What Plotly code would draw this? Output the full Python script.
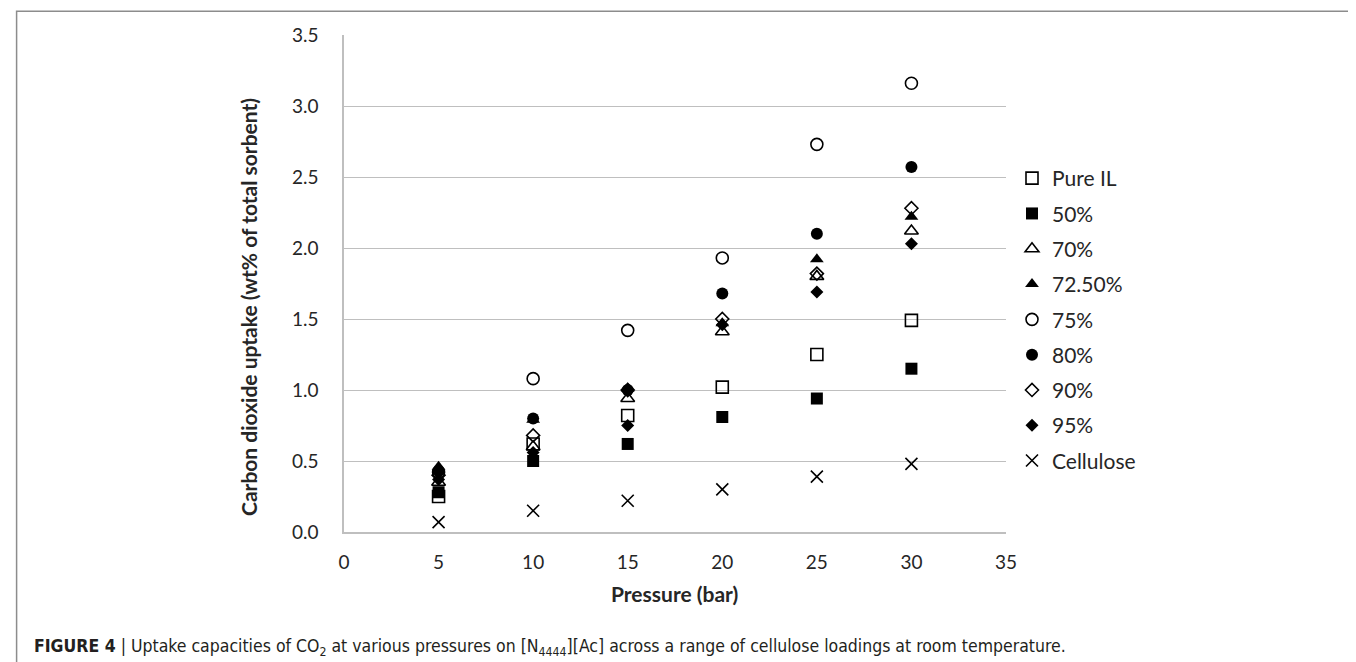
import plotly.graph_objects as go

# ---------------- data ----------------
pressure = [5, 10, 15, 20, 25, 30]
series_names = ["Pure IL", "50%", "70%", "72.50%", "75%", "80%", "90%", "95%", "Cellulose"]
pure_il   = [0.25, 0.62, 0.82, 1.02, 1.25, 1.49]
pct50     = [0.28, 0.50, 0.62, 0.81, 0.94, 1.15]
pct70     = [0.35, 0.60, 0.94, 1.41, 1.80, 2.12]
pct72_5   = [0.46, 0.79, 1.01, 1.47, 1.92, 2.22]
pct75     = [0.42, 1.08, 1.42, 1.93, 2.73, 3.16]
pct80     = [0.43, 0.80, 1.00, 1.68, 2.10, 2.57]
pct90     = [0.40, 0.68, 1.00, 1.50, 1.82, 2.28]
pct95     = [0.37, 0.56, 0.75, 1.46, 1.69, 2.03]
cellulose = [0.07, 0.15, 0.22, 0.30, 0.39, 0.48]
values = [pure_il, pct50, pct70, pct72_5, pct75, pct80, pct90, pct95, cellulose]

x_ticks = [0, 5, 10, 15, 20, 25, 30, 35]
y_ticks = [0.0, 0.5, 1.0, 1.5, 2.0, 2.5, 3.0, 3.5]

# ---------------- styles ----------------
symbols = ["square-open", "square", "triangle-up-open", "triangle-up",
           "circle-open", "circle", "diamond-open", "diamond", "x-thin"]
sizes = [12, 12, 12, 12, 12, 12, 10, 10, 12]

W, H = 1356, 662
L, R, T, B = 336, 998, 27, 524   # plot area in pixels


def px_x(p):
    return (p - L) / (R - L)


def px_y(p):
    return (B - p) / (B - T)


fig = go.Figure()
for name, vals, sym, sz in zip(series_names, values, symbols, sizes):
    is_open = sym.endswith("-open") or sym == "x-thin"
    fig.add_trace(go.Scatter(
        x=pressure, y=vals, mode="markers", name=name, legendgroup=name,
        marker=dict(symbol=sym, size=sz, color="black",
                    line=dict(color="black", width=1.6 if is_open else 0)),
    ))

font_main = "Lato, Open Sans, sans-serif"

fig.update_layout(
    width=W, height=H, autosize=False,
    margin=dict(l=L, r=W - R, t=T, b=H - B, pad=0),
    paper_bgcolor="white", plot_bgcolor="white",
    font=dict(family=font_main, size=19, color="#262626"),
    showlegend=True,
    legend=dict(
        x=px_x(1004), xanchor="left",
        y=px_y(150), yanchor="top",
        font=dict(family=font_main, size=21, color="#262626"),
        tracegroupgap=5, bgcolor="rgba(0,0,0,0)", borderwidth=0,
        itemsizing="trace",
    ),
    xaxis=dict(
        range=[0, 35], tickvals=x_ticks, ticktext=[str(v) for v in x_ticks],
        showgrid=False, zeroline=False, showline=True, linecolor="#bfbfbf", linewidth=1.5,
        ticks="outside", ticklen=12, tickcolor="rgba(0,0,0,0)",
        tickfont=dict(family=font_main, size=19, color="#262626"),
        fixedrange=True,
    ),
    yaxis=dict(
        range=[0, 3.5], tickvals=y_ticks, ticktext=[f"{v:.1f}" for v in y_ticks],
        showgrid=True, gridcolor="#bfbfbf", gridwidth=1.4,
        zeroline=False, showline=True, linecolor="#bfbfbf", linewidth=1.5,
        ticks="outside", ticklen=20, tickcolor="rgba(0,0,0,0)",
        tickfont=dict(family=font_main, size=19, color="#262626"),
        fixedrange=True,
    ),
)

# axis titles
fig.add_annotation(
    text="<b>Pressure (bar)</b>", xref="paper", yref="paper",
    x=px_x(666), y=px_y(585), xanchor="center", yanchor="middle",
    showarrow=False, font=dict(family=font_main, size=21, color="#262626"),
)
fig.add_annotation(
    text="<b>Carbon dioxide uptake (wt% of total sorbent)</b>", xref="paper", yref="paper",
    x=px_x(240), y=px_y(299), xanchor="center", yanchor="middle", textangle=-90,
    showarrow=False, font=dict(family=font_main, size=21, color="#262626"),
)

# caption
fig.add_annotation(
    text=("<b>FIGURE 4</b> | Uptake capacities of CO<sub>2</sub> at various pressures on "
          "[N<sub>4444</sub>][Ac] across a range of cellulose loadings at room temperature."),
    xref="paper", yref="paper", x=px_x(24), y=px_y(639), xanchor="left", yanchor="middle",
    showarrow=False,
    font=dict(family="Liberation Sans Narrow, DejaVu Sans Condensed, Arial Narrow, sans-serif",
              size=17.5, color="#231f20"),
)

# outer frame
fig.add_shape(
    type="rect", xref="paper", yref="paper",
    x0=px_x(8.6), x1=px_x(1354.6), y0=px_y(672), y1=px_y(3.3),
    line=dict(color="#8c8c8c", width=1.5), fillcolor="rgba(0,0,0,0)", layer="below",
)

fig.write_html("out.html")
